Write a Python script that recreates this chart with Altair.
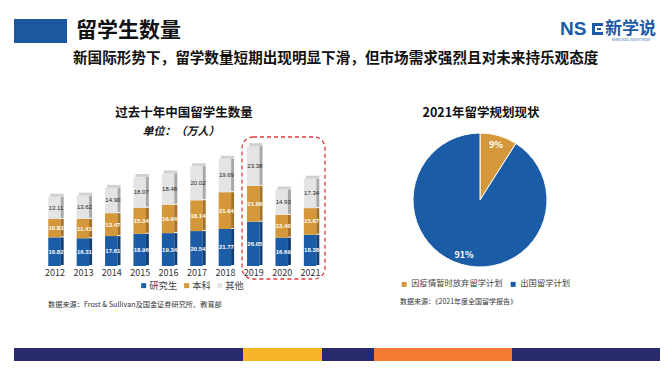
import altair as alt
import pandas as pd

FONT = "Noto Sans CJK SC"
NUMF = "Liberation Sans"
O = 8  # page margin offset

years = ["2012", "2013", "2014", "2015", "2016", "2017", "2018", "2019", "2020", "2021"]
grad = [16.82, 16.31, 17.61, 18.96, 19.34, 20.54, 21.77, 26.05, 16.69, 18.38]
under = [10.83, 11.43, 13.47, 15.34, 16.64, 18.14, 21.64, 21.06, 13.40, 15.67]
other = [13.11, 13.62, 14.90, 18.07, 18.48, 20.02, 19.69, 23.38, 14.93, 17.34]
series = ["研究生", "本科", "其他"]
bar_colors = ["#1b5ca6", "#d4983a", "#e4e4e4"]
side_colors = ["#123f74", "#a5722a", "#a8a8a8"]

pie_labels = ["因疫情暂时放弃留学计划", "出国留学计划"]
pie_values = [9, 91]
pie_colors = ["#d4983a", "#1b5ca6"]

rows = []
for i, y in enumerate(years):
    base = 0.0
    for s, vals in zip(series, [grad, under, other]):
        v = vals[i]
        rows.append({"year": y, "series": s, "value": v, "order": series.index(s),
                     "y0": base, "y1": base + v, "mid": base + v / 2,
                     "label": f"{v:.2f}"})
        base += v
df = pd.DataFrame(rows)
tot = df.groupby("year", as_index=False)["y1"].max().rename(columns={"y1": "total"})

pie_df = pd.DataFrame({"cat": pie_labels, "value": pie_values,
                       "label": [f"{v}%" for v in pie_values], "order": [0, 1]})

xs = alt.Scale(domain=years, range=[41.8 - O, 325.8 - O], paddingInner=0.6, paddingOuter=0.3)
ys = alt.Scale(domain=[0, 80], range=[266 - O, 130 - O])
X = alt.X("year:N", scale=xs, axis=None)

front = alt.Chart(df).mark_bar(size=12.5, xOffset=-1.5).encode(
    x=X,
    y=alt.Y("y0:Q", scale=ys, axis=None),
    y2="y1:Q",
    color=alt.Color("series:N", scale=alt.Scale(domain=series, range=bar_colors),
                    legend=alt.Legend(title=None, orient="none", direction="horizontal",
                                      legendX=139 - O, legendY=281 - O, symbolType="square",
                                      symbolSize=25, labelFont=FONT, labelFontSize=9.3,
                                      labelColor="#444", columnPadding=4, labelOffset=1,
                                      gridAlign="none", symbolStrokeWidth=0)),
)
side = alt.Chart(df).mark_bar(size=3, xOffset=6.2, yOffset=-1).encode(
    x=X,
    y=alt.Y("y0:Q", scale=ys, axis=None),
    y2="y1:Q",
    color=alt.Color("series:N", scale=alt.Scale(domain=series, range=side_colors), legend=None),
)
cap = alt.Chart(tot).mark_tick(size=13.5, thickness=3, xOffset=1, yOffset=-1.5, color="#bdbdbd").encode(
    x=X, y=alt.Y("total:Q", scale=ys, axis=None)
)
txt_white = alt.Chart(df[df.series != "其他"]).mark_text(
    font=NUMF, fontSize=6, fontWeight="bold", color="white", xOffset=0
).encode(x=X, y=alt.Y("mid:Q", scale=ys, axis=None), text="label:N")
txt_dark = alt.Chart(df[df.series == "其他"]).mark_text(
    font=NUMF, fontSize=6, color="#222", xOffset=0
).encode(x=X, y=alt.Y("mid:Q", scale=ys, axis=None), text="label:N")
year_lbl = alt.Chart(pd.DataFrame({"year": years})).mark_text(
    font=FONT, fontSize=9, color="#333", xOffset=-1
).encode(x=X, y=alt.value(273 - O), text="year:N")

box = alt.Chart(pd.DataFrame({"a": [0]})).mark_rect(
    cornerRadius=11, fillOpacity=0, stroke="#e23a3a", strokeDash=[4, 3], strokeWidth=1.3
).encode(x=alt.value(242 - O), x2=alt.value(325 - O), y=alt.value(137 - O), y2=alt.value(279 - O))

cx, cy, r = 480 - O, 200 - O, 67
pie = alt.Chart(pie_df).mark_arc(outerRadius=r, stroke="white", strokeWidth=1).encode(
    theta=alt.Theta("value:Q", stack=True),
    order=alt.Order("order:Q"),
    color=alt.Color("cat:N", scale=alt.Scale(domain=pie_labels, range=pie_colors),
                    legend=alt.Legend(title=None, orient="none", direction="horizontal",
                                      legendX=400 - O, legendY=280 - O, symbolType="square",
                                      symbolSize=25, labelFont=FONT, labelFontSize=8.3,
                                      labelColor="#444", columnPadding=6, labelOffset=3,
                                      symbolStrokeWidth=0)),
    x=alt.value(cx), y=alt.value(cy),
)
pie_txt = alt.Chart(pie_df).mark_text(radius=57, font=FONT, fontSize=9, fontWeight="bold",
                                      color="white").encode(
    theta=alt.Theta("value:Q", stack=True),
    order=alt.Order("order:Q"),
    text="label:N",
    x=alt.value(cx), y=alt.value(cy),
)

def T(text, x, y, size, weight="normal", color="#111", align="left", style="normal", font=FONT):
    return alt.Chart(pd.DataFrame({"t": [text]})).mark_text(
        font=font, fontSize=size, fontWeight=weight, color=color, align=align,
        baseline="middle", fontStyle=style
    ).encode(text="t:N", x=alt.value(x - O), y=alt.value(y - O))

def R(x1, x2, y1, y2, color):
    return alt.Chart(pd.DataFrame({"a": [0]})).mark_rect(color=color).encode(
        x=alt.value(x1 - O), x2=alt.value(x2 - O), y=alt.value(y1 - O), y2=alt.value(y2 - O))

deco = [
    R(14, 67, 19, 43, "#1d57a0"),
    T("留学生数量", 76, 31, 21, "bold", "#111"),
    T("新国际形势下，留学数量短期出现明显下滑，但市场需求强烈且对未来持乐观态度", 73, 59, 14.6, "bold", "#111"),
    T("NS", 560, 29, 19, "bold", "#1d5aa6", font="Liberation Sans"),
    R(592, 603, 23, 35, "#1d5aa6"),
    R(595, 603, 26, 32, "white"),
    R(597, 601, 28, 30, "#1d5aa6"),
    T("新学说", 605, 28.5, 17, "bold", "#1d5aa6"),
    T("NEWSCHOOL INSIGHT MEDIA", 631, 39.5, 2.8, "normal", "#1d5aa6", align="center"),
    T("过去十年中国留学生数量", 184, 113, 12.5, "bold", "#111", align="center"),
    T("单位：（万人）", 181, 132, 11, "bold", "#111", align="center", style="italic"),
    T("数据来源：Frost & Sullivan及国金证券研究所、教育部", 48, 305, 7.2, "normal", "#333"),
    T("2021年留学规划现状", 481, 113, 12.5, "bold", "#111", align="center"),
    T("数据来源：《2021年度全国留学报告》", 400, 302, 7, "normal", "#333"),
    R(14, 668, 348, 369, "#272a6c"),
    R(243, 322, 348, 369, "#f8b42b"),
    R(374, 512, 348, 369, "#f37a33"),
]

chart = alt.layer(
    *deco[:14], box, front, side, cap, txt_white, txt_dark, year_lbl, pie, pie_txt, *deco[14:]
).resolve_scale(color="independent").properties(
    width=652, height=353, padding=0, autosize=alt.AutoSizeParams(type="none"),
    background="white"
).configure_view(stroke=None)

chart.save("out.html", embed_options={"renderer": "svg", "actions": False})
